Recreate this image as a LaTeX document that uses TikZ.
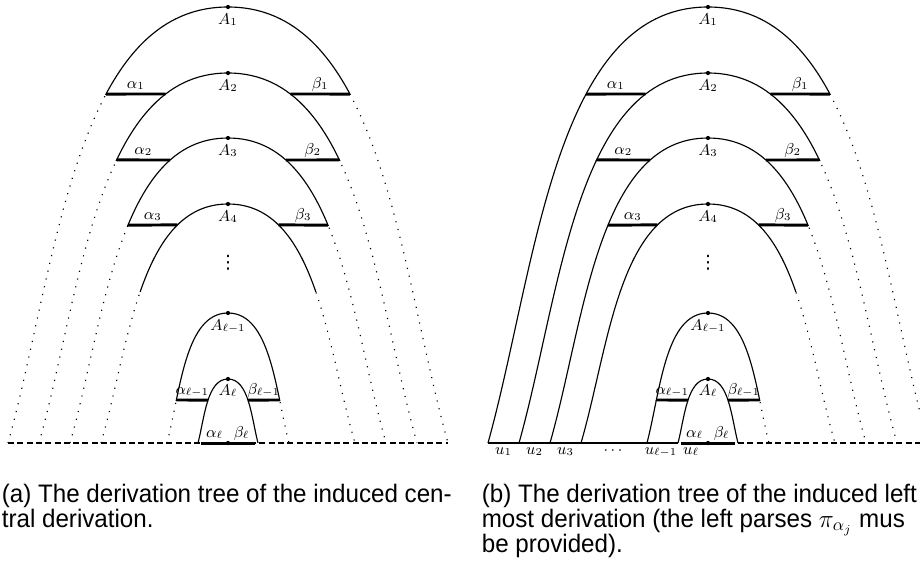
\documentclass[tikz,border=0pt]{standalone}
\usepackage{fontspec}
\newfontfamily\capfont[FakeStretch=0.955]{Liberation Sans}
\newfontfamily\symfont{DejaVu Sans}
\usetikzlibrary{intersections}
\tikzset{
  arcline/.style={line width=0.65pt},
  dotline/.style={line width=0.65pt, dash pattern=on 0.65pt off 3.9pt},
  dashline/.style={line width=0.65pt, dash pattern=on 3.4pt off 1.9pt},
  barline/.style={line width=1.7pt},
  lab/.style={font=\fontsize{8.9}{10}\selectfont, inner sep=0pt},
  vdotstext/.style={font=\symfont\fontsize{10.5}{11}\selectfont, inner sep=0pt},
  captext/.style={font=\capfont\fontsize{14.4}{15}\selectfont, inner sep=0pt, anchor=base west},
  dotnode/.style={circle, fill, inner sep=0pt, minimum size=2.4pt},
}
% #1 name, #2 cx, #3 apex y, #4 half width, #5 cut y, #6 lower-left style, #7 lower-right style
\newcommand\treearc[7]{%
  \pgfmathsetmacro\tA{#2-#4}%
  \pgfmathsetmacro\tB{#2-0.78*#4}%
  \pgfmathsetmacro\tC{#2-0.7*#4}%
  \pgfmathsetmacro\tD{#2+0.7*#4}%
  \pgfmathsetmacro\tE{#2+0.78*#4}%
  \pgfmathsetmacro\tF{#2+#4}%
  \pgfmathsetmacro\tY{#3+0.6*(443-#3)}%
  \pgfmathsetmacro\tL{#2-#4-10}%
  \pgfmathsetmacro\tR{#2+#4+10}%
  \pgfmathsetmacro\tT{#3-10}%
  \def\tpath{(\tA,443) .. controls (\tB,\tY) and (\tC,#3) .. (#2,#3) .. controls (\tD,#3) and (\tE,\tY) .. (\tF,443)}%
  \path[name path=#1] \tpath;
  \begin{scope}\clip (\tL,\tT) rectangle (\tR,#5); \draw[arcline] \tpath; \end{scope}
  \begin{scope}\clip (\tL,#5) rectangle (#2,453); \draw[#6] \tpath; \end{scope}
  \begin{scope}\clip (#2,#5) rectangle (\tR,453); \draw[#7] \tpath; \end{scope}
  \node[dotnode] (#1d) at (#2,#3) {};
}
% #1 outer, #2 inner, #3 cx, #4 y, #5 left label, #6 right label, #7 prefix
\newcommand\barpair[7]{%
  \pgfmathsetmacro\bL{#3-250}%
  \pgfmathsetmacro\bR{#3+250}%
  \path[name path=hl#7] (\bL,#4) -- (#3,#4);
  \path[name path=hr#7] (#3,#4) -- (\bR,#4);
  \path[name intersections={of=#1 and hl#7, by=#7ol}];
  \path[name intersections={of=#2 and hl#7, by=#7il}];
  \path[name intersections={of=#1 and hr#7, by=#7or}];
  \path[name intersections={of=#2 and hr#7, by=#7ir}];
  \draw[barline] (#7ol) -- (#7il) node[lab, midway, anchor=base, yshift=3.4pt] (#7a) {$#5$};
  \draw[barline] (#7ir) -- (#7or) node[lab, midway, anchor=base, yshift=3.4pt] (#7b) {$#6$};
}
\begin{document}
\begin{tikzpicture}[x=0.02cm, y=-0.02cm]
\useasboundingbox (0,0) rectangle (920,562);

% ---------------- left diagram ----------------
\coordinate (Lbl) at (8,443);
\coordinate (Lbr) at (448,443);
\draw[dashline] (Lbl) -- (Lbr);
\treearc{LA1}{228}{7}{220}{94}{dotline}{dotline}
\treearc{LA2}{228}{73}{189}{160}{dotline}{dotline}
\treearc{LA3}{228}{138}{158}{225}{dotline}{dotline}
\treearc{LA4}{228}{204}{127}{291}{dotline}{dotline}
\treearc{LAm}{228}{313}{61}{400}{dotline}{dotline}
\treearc{LAl}{228}{379}{30}{443}{draw=none}{draw=none}
\barpair{LA1}{LA2}{228}{94}{\alpha_1}{\beta_1}{Lb1}
\barpair{LA2}{LA3}{228}{160}{\alpha_2}{\beta_2}{Lb2}
\barpair{LA3}{LA4}{228}{225}{\alpha_3}{\beta_3}{Lb3}
\barpair{LAm}{LAl}{228}{400}{\alpha_{\ell-1}}{\beta_{\ell-1}}{Lbm}
\coordinate (Lal) at (201,443);
\coordinate (Lc) at (228,443);
\coordinate (Lar) at (255,443);
\draw[barline] (Lal) -- (Lc) node[lab, midway, anchor=base, yshift=3.4pt] (Lalpha) {$\alpha_\ell$};
\draw[barline] (Lc) -- (Lar) node[lab, midway, anchor=base, yshift=3.4pt] (Lbeta) {$\beta_\ell$};
\node[dotnode] (Lcd) at (Lc) {};
\node[lab, anchor=base] (LA1t) at (228,24) {$A_1$};
\node[lab, anchor=base] (LA2t) at (228,90) {$A_2$};
\node[lab, anchor=base] (LA3t) at (228,155) {$A_3$};
\node[lab, anchor=base] (LA4t) at (228,221) {$A_4$};
\node[vdotstext] (Lvd) at (228,263) {⋮};
\node[lab, anchor=base] (LAmt) at (228,330) {$A_{\ell-1}$};
\node[lab, anchor=base] (LAlt) at (228,395) {$A_\ell$};

% ---------------- right diagram ----------------
\coordinate (Rbl) at (488,443);
\coordinate (Rsl) at (678,443);
\coordinate (Rsr) at (738,443);
\coordinate (Rbr) at (928,443);
\draw[arcline] (Rbl) -- (Rsl);
\draw[dashline] (Rsr) -- (Rbr);
\treearc{RA1}{708}{7}{220}{94}{arcline}{dotline}
\treearc{RA2}{708}{73}{189}{160}{arcline}{dotline}
\treearc{RA3}{708}{138}{158}{225}{arcline}{dotline}
\treearc{RA4}{708}{204}{127}{291}{arcline}{dotline}
\treearc{RAm}{708}{313}{61}{400}{arcline}{dotline}
\treearc{RAl}{708}{379}{30}{443}{draw=none}{draw=none}
\barpair{RA1}{RA2}{708}{94}{\alpha_1}{\beta_1}{Rb1}
\barpair{RA2}{RA3}{708}{160}{\alpha_2}{\beta_2}{Rb2}
\barpair{RA3}{RA4}{708}{225}{\alpha_3}{\beta_3}{Rb3}
\barpair{RAm}{RAl}{708}{400}{\alpha_{\ell-1}}{\beta_{\ell-1}}{Rbm}
\coordinate (Ral) at (681,443);
\coordinate (Rc) at (708,443);
\coordinate (Rar) at (735,443);
\draw[barline] (Ral) -- (Rc) node[lab, midway, anchor=base, yshift=3.4pt] (Ralpha) {$\alpha_\ell$};
\draw[barline] (Rc) -- (Rar) node[lab, midway, anchor=base, yshift=3.4pt] (Rbeta) {$\beta_\ell$};
\node[dotnode] (Rcd) at (Rc) {};
\node[lab, anchor=base] (RA1t) at (708,24) {$A_1$};
\node[lab, anchor=base] (RA2t) at (708,90) {$A_2$};
\node[lab, anchor=base] (RA3t) at (708,155) {$A_3$};
\node[lab, anchor=base] (RA4t) at (708,221) {$A_4$};
\node[vdotstext] (Rvd) at (708,263) {⋮};
\node[lab, anchor=base] (RAmt) at (708,330) {$A_{\ell-1}$};
\node[lab, anchor=base] (RAlt) at (708,395) {$A_\ell$};
\node[lab, anchor=base] (u1) at (503.5,454) {$u_1$};
\node[lab, anchor=base] (u2) at (534.5,454) {$u_2$};
\node[lab, anchor=base] (u3) at (565.5,454) {$u_3$};
\node[lab, anchor=base] (ud) at (613,454) {$\cdots$};
\node[lab, anchor=base] (um) at (661,454) {$u_{\ell-1}$};
\node[lab, anchor=base] (ul) at (691,454) {$u_\ell$};

% ---------------- captions ----------------
\node[captext] (capa1) at (1.5,502) {(a) The derivation tree of the induced cen-};
\node[captext] (capa2) at (1.5,527) {tral derivation.};
\node[captext] (capb1) at (481.5,502) {(b) The derivation tree of the induced left};
\node[captext] (capb2) at (481.5,527) {most derivation (the left parses $\pi_{\alpha_j}$ mus};
\node[captext] (capb3) at (481.5,552) {be provided).};
\end{tikzpicture}
\end{document}
